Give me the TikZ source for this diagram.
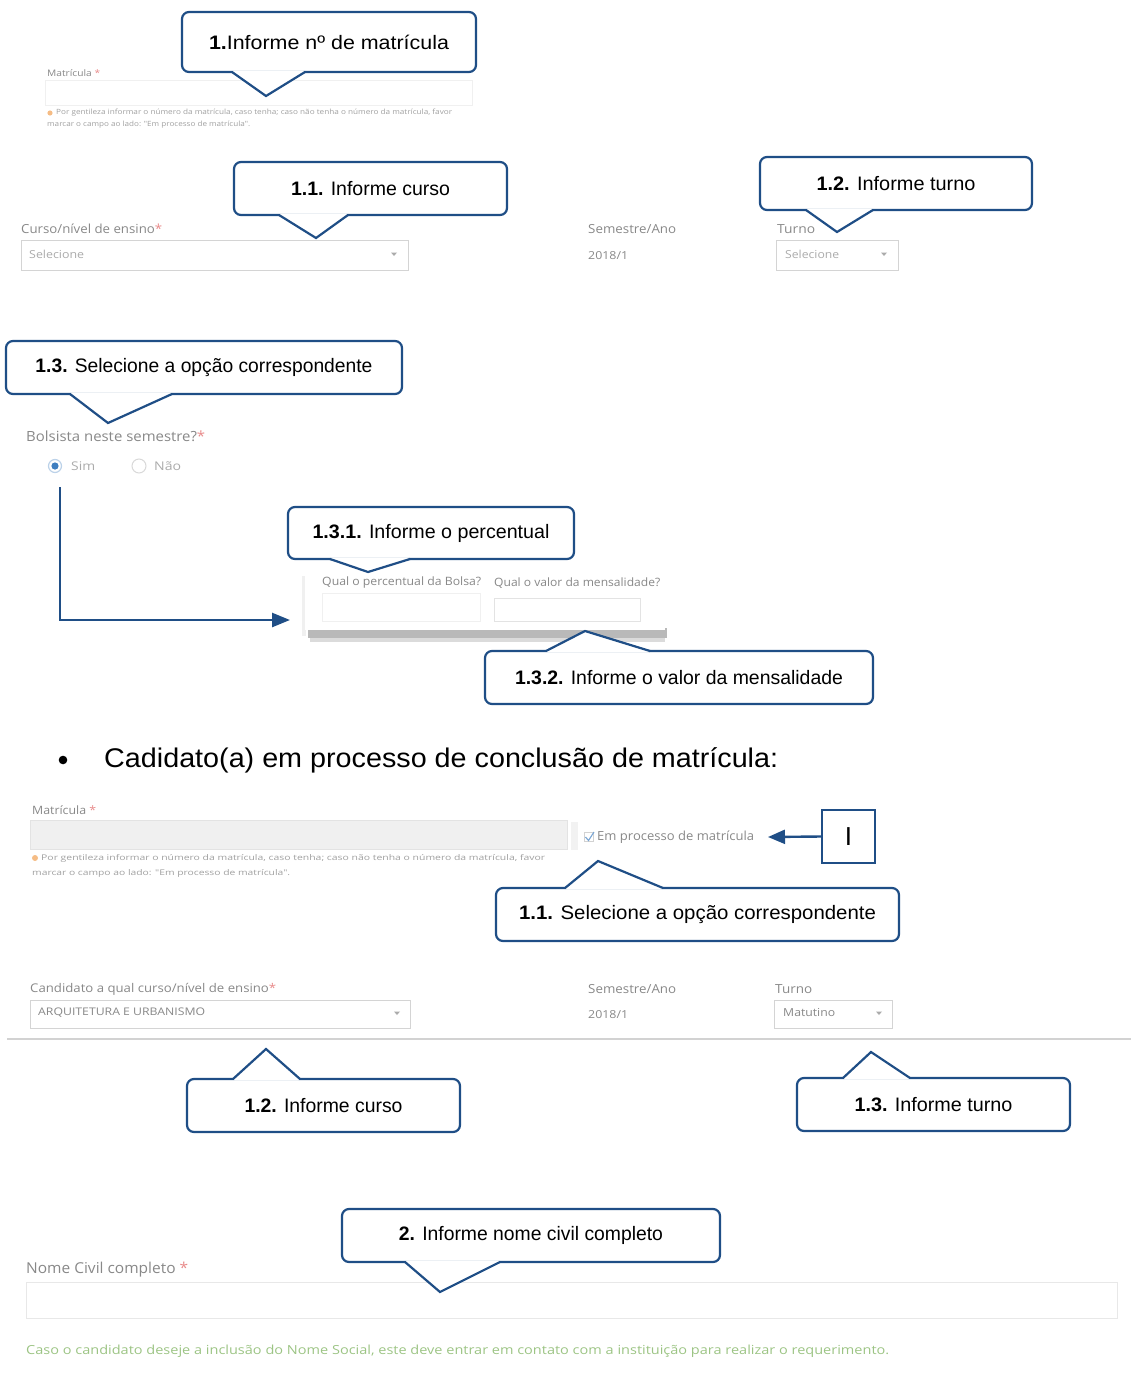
\documentclass[tikz,border=0pt]{standalone}
\usepackage{fontspec}
\usepackage{graphicx}
\setmainfont{Liberation Sans}
\newfontfamily\formfont{Open Sans}
\usetikzlibrary{calc,arrows.meta}
\definecolor{cblue}{HTML}{1F4E86}
\definecolor{formgray}{HTML}{888888}
\definecolor{lightval}{HTML}{ABABAB}
\definecolor{boxgray}{HTML}{D4D4D4}
\definecolor{reqred}{HTML}{E88A8A}
\definecolor{hintgreen}{HTML}{9CC484}
\definecolor{warnorange}{HTML}{F0A050}
\definecolor{radioblue}{HTML}{3F7FC0}
\tikzset{
  callout/.style={draw=cblue, line width=2.2pt, rounded corners=7pt, fill=white, inner sep=0pt,
    font=\fontsize{19.5}{22}\selectfont, text=black},
  ptrline/.style={draw=cblue, line width=2.2pt, line cap=round, line join=miter},
  lbl/.style={anchor=west, inner sep=0pt, text=formgray, font=\formfont\fontsize{12.5}{14}\selectfont},
  val/.style={anchor=west, inner sep=0pt, text=lightval, font=\formfont\fontsize{11}{13}\selectfont},
  hint/.style={anchor=west, inner sep=0pt, text=formgray!80, font=\formfont\fontsize{7}{8}\selectfont},
  fbox/.style={draw=boxgray, line width=0.9pt, fill=white, inner sep=0pt, anchor=north west},
  conn/.style={draw=cblue, line width=2.6pt},
}
% pointer: #1 y of border, #2 p1, #3 p2, #4 tip x, #5 tip y, #6 inward offset
\newcommand{\mkptr}[6]{%
  \fill[white] ({#2+1.6},{#1+#6}) -- ({#3-1.6},{#1+#6}) -- (#3,#1) -- (#4,#5) -- (#2,#1) -- cycle;
  \draw[ptrline] (#2,#1) -- (#4,#5) -- (#3,#1);}
\newcommand{\ddtri}[2]{\fill[lightval] ({#1-3},{#2-1.5}) -- ({#1+3},{#2-1.5}) -- (#1,{#2+2}) -- cycle;}
\newcommand{\cw}[2]{\resizebox{#1pt}{\height}{#2}}
\begin{document}
\begin{tikzpicture}[x=1pt,y=-1pt]
\useasboundingbox (0,0) rectangle (1131,1376);

% ---------- top form: matricula ----------
\node[lbl, font=\formfont\fontsize{9}{10}\selectfont] (matA) at (47,73) {\cw{53}{Matrícula \textcolor{reqred}{*}}};
\node[fbox, draw=gray!12, minimum width=427pt, minimum height=25pt] (inA) at (45,80) {};
\fill[warnorange!70] (50,113) circle (2.6);
\node[hint] (hA1) at (56,113) {\resizebox{396pt}{5.5pt}{Por gentileza informar o número da matrícula, caso tenha; caso não tenha o número da matrícula, favor}};
\node[hint] (hA2) at (47,125) {\resizebox{203pt}{5.5pt}{marcar o campo ao lado: "Em processo de matrícula".}};

% ---------- row 1 ----------
\node[lbl] (cursoA) at (21,229) {\cw{141}{Curso/nível de ensino\textcolor{reqred}{*}}};
\node[fbox, minimum width=387pt, minimum height=30pt] (selA) at (21,240) {};
\node[val] (selAt) at (29,254) {\cw{55}{Selecione}};
\ddtri{394}{254}
\node[lbl] (semA) at (588,229) {\cw{88}{Semestre/Ano}};
\node[lbl, font=\formfont\fontsize{11}{12}\selectfont] (semAv) at (588,256) {\cw{40}{2018/1}};
\node[lbl] (turA) at (777,229) {\cw{38}{Turno}};
\node[fbox, minimum width=122pt, minimum height=30pt] (selB) at (776,240) {};
\node[val] (selBt) at (785,254) {\cw{54}{Selecione}};
\ddtri{884}{254}

% ---------- bolsista ----------
\node[lbl, font=\formfont\fontsize{14}{16}\selectfont] (bols) at (26,436) {\cw{179}{Bolsista neste semestre?\textcolor{reqred}{*}}};
\node[circle, draw=radioblue!35, line width=1.2pt, fill=white, minimum size=13pt, inner sep=0pt] (rsim) at (55,466) {};
\fill[radioblue] (rsim.center) circle (3.6);
\node[val, font=\formfont\fontsize{12}{14}\selectfont] (simt) at (71,466) {\cw{24}{Sim}};
\node[circle, draw=gray!30, line width=1pt, fill=white, minimum size=14pt, inner sep=0pt] (rnao) at (139,466) {};
\node[val, font=\formfont\fontsize{12}{14}\selectfont] (naot) at (154,466) {\cw{27}{Não}};

% ---------- panel ----------
\fill[gray!55] (308,628) rectangle (667,638);
\fill[gray!28] (310,638) rectangle (665,642);
\fill[gray!12] (302,576) rectangle (306,636);
\node[fill=white, inner sep=0pt, minimum width=360pt, minimum height=58pt, anchor=north west] (panel) at (305,572) {};
\node[lbl, font=\formfont\fontsize{11.5}{13}\selectfont] (qperc) at (322,583) {\cw{159}{Qual o percentual da Bolsa?}};
\node[lbl, font=\formfont\fontsize{11.5}{13}\selectfont] (qval) at (494,583) {\cw{166}{Qual o valor da mensalidade?}};
\node[fbox, draw=gray!12, minimum width=158pt, minimum height=28pt] (inP) at (322,593) {};
\node[fbox, draw=gray!22, minimum width=146pt, minimum height=23pt] (inV) at (494,598) {};

% Sim -> panel arrow
\coordinate (simstart) at (60,487);
\coordinate (panelin) at (290,620);
\draw[conn, -{Triangle[length=18pt,width=14pt]}] (simstart) |- (panelin);

% ---------- bullet ----------
\fill[black] (63,760) circle (4.3);
\node[anchor=west, inner sep=0pt, font=\fontsize{27}{30}\selectfont] (bullet) at (104,760) {\cw{674}{Cadidato(a) em processo de conclusão de matrícula:}};

% ---------- row 2 ----------
\node[lbl, font=\formfont\fontsize{11.5}{13}\selectfont] (matB) at (32,810) {\cw{64}{Matrícula \textcolor{reqred}{*}}};
\node[fbox, fill=gray!12, draw=gray!22, minimum width=537pt, minimum height=29pt] (inB) at (30,820) {};
\fill[gray!10] (571,822) rectangle (578,850);
\fill[warnorange!70] (35,858) circle (3);
\node[hint] (hB1) at (41,858) {\resizebox{504pt}{6pt}{Por gentileza informar o número da matrícula, caso tenha; caso não tenha o número da matrícula, favor}};
\node[hint] (hB2) at (32,873) {\resizebox{258pt}{6pt}{marcar o campo ao lado: "Em processo de matrícula".}};
\node[draw=gray!35, fill=white, minimum size=9pt, inner sep=0pt] (chk) at (589,837) {};
\draw[radioblue!70, line width=1.1pt] (585.5,837) -- (588.5,840.5) -- (594,832);
\node[lbl] (emproc) at (597,837) {\cw{157}{Em processo de matrícula}};
\coordinate (chkend) at (768,837);
\node[draw=cblue, line width=2.2pt, minimum width=53pt, minimum height=53pt, inner sep=0pt, font=\fontsize{26}{28}\selectfont] (Ibox) at (848.5,836.5) {I};
\draw[conn, line width=2.4pt, -{Triangle[length=17pt,width=14pt]}] (Ibox.west) -- (chkend);

% ---------- row 3 ----------
\node[lbl, font=\formfont\fontsize{12}{14}\selectfont] (cursoB) at (30,989) {\cw{246}{Candidato a qual curso/nível de ensino\textcolor{reqred}{*}}};
\node[fbox, minimum width=380pt, minimum height=28pt] (selC) at (30,1000) {};
\node[val, text=formgray, font=\formfont\fontsize{10.5}{12}\selectfont] (selCt) at (38,1013) {\cw{167}{ARQUITETURA E URBANISMO}};
\ddtri{397}{1013}
\node[lbl] (semB) at (588,989) {\cw{88}{Semestre/Ano}};
\node[lbl, font=\formfont\fontsize{11}{12}\selectfont] (semBv) at (588,1015) {\cw{40}{2018/1}};
\node[lbl] (turB) at (775,989) {\cw{37}{Turno}};
\node[fbox, minimum width=118pt, minimum height=28pt] (selD) at (774,1000) {};
\node[val, text=formgray, font=\formfont\fontsize{11}{13}\selectfont] (selDt) at (783,1013) {\cw{52}{Matutino}};
\ddtri{879}{1013}
\draw[gray!35, line width=1.5pt] (7,1039) -- (1131,1039);

% ---------- bottom ----------
\node[lbl, font=\formfont\fontsize{15}{17}\selectfont] (nome) at (26,1270) {\cw{162}{Nome Civil completo \textcolor{reqred}{*}}};
\node[fbox, draw=gray!18, line width=1.4pt, minimum width=1091pt, minimum height=36pt] (inN) at (26,1282) {};
\node[anchor=west, inner sep=0pt, text=hintgreen, font=\formfont\fontsize{12.5}{14}\selectfont] (green) at (26,1351) {\cw{863}{Caso o candidato deseje a inclusão do Nome Social, este deve entrar em contato com a instituição para realizar o requerimento.}};

% ---------- callouts ----------
\node[callout, minimum width=294pt, minimum height=60pt] (c1) at (329,42) {\cw{240}{\textbf{1.}Informe nº de matrícula}};
\mkptr{72}{232}{305}{266}{96}{-1.3}

\node[callout, minimum width=273pt, minimum height=53pt] (c11) at (370.5,188.5) {\cw{159}{\textbf{1.1.} Informe curso}};
\mkptr{215}{279}{348}{316}{238}{-1.3}

\node[callout, minimum width=272pt, minimum height=53pt] (c12) at (896,183.5) {\cw{159}{\textbf{1.2.} Informe turno}};
\mkptr{210}{806}{873}{837}{232}{-1.3}

\node[callout, minimum width=396pt, minimum height=53pt] (c13) at (204,367.5) {\cw{337}{\textbf{1.3.} Selecione a opção correspondente}};
\mkptr{394}{70}{172}{108}{423}{-1.3}

\node[callout, minimum width=286pt, minimum height=52pt] (c131) at (431,533) {\cw{237}{\textbf{1.3.1.} Informe o percentual}};
\mkptr{559}{330}{410}{368}{572}{-1.3}

\node[callout, minimum width=388pt, minimum height=53pt] (c132) at (679,677.5) {\cw{328}{\textbf{1.3.2.} Informe o valor da mensalidade}};
\mkptr{651}{546}{650}{585}{631}{1.3}

\node[callout, minimum width=403pt, minimum height=53pt] (c211) at (697.5,914.5) {\cw{357}{\textbf{1.1.} Selecione a opção correspondente}};
\mkptr{888}{565}{663}{598}{861}{1.3}

\node[callout, minimum width=273pt, minimum height=53pt] (c212) at (323.5,1105.5) {\cw{158}{\textbf{1.2.} Informe curso}};
\mkptr{1079}{233}{300}{266}{1049}{1.3}

\node[callout, minimum width=273pt, minimum height=53pt] (c213) at (933.5,1104.5) {\cw{158}{\textbf{1.3.} Informe turno}};
\mkptr{1078}{843}{910}{871}{1052}{1.3}

\node[callout, minimum width=378pt, minimum height=53pt] (c2) at (531,1235.5) {\cw{264}{\textbf{2.} Informe nome civil completo}};
\mkptr{1262}{405}{500}{440}{1292}{-1.3}
\end{tikzpicture}
\end{document}
